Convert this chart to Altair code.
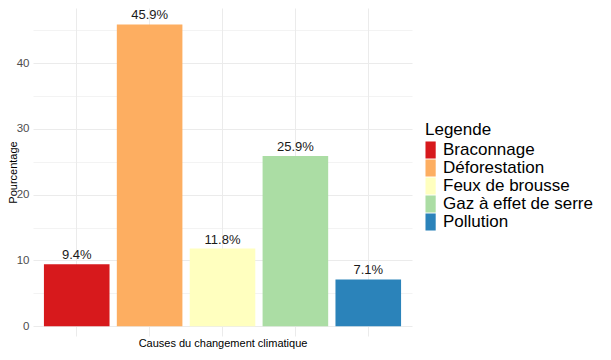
import altair as alt
import pandas as pd

categories = ["Braconnage", "Déforestation", "Feux de brousse", "Gaz à effet de serre", "Pollution"]
values = [9.4, 45.9, 11.8, 25.9, 7.1]
labels = ["9.4%", "45.9%", "11.8%", "25.9%", "7.1%"]
colors = ["#d7191c", "#fdae61", "#ffffbf", "#abdda4", "#2b83ba"]
y_grid_values = [0, 5, 10, 15, 20, 25, 30, 35, 40, 45]

df = pd.DataFrame({"cause": categories, "pct": values, "label": labels})

FONT = "Liberation Sans"

x = alt.X(
    "cause:N",
    sort=categories,
    title="Causes du changement climatique",
    scale=alt.Scale(paddingInner=0.1, paddingOuter=0.15),
    axis=alt.Axis(
        labels=False, ticks=False, domain=False, grid=True, bandPosition=0.5,
        gridColor="#ebebeb", gridWidth=1,
        titleFontSize=11, titleFontWeight="normal", titleColor="black",
        titlePadding=1, titleFont=FONT,
    ),
)
y = alt.Y(
    "pct:Q",
    title="Pourcentage",
    scale=alt.Scale(domain=[-1.5, 48.4], nice=False, zero=False),
    axis=alt.Axis(
        values=y_grid_values,
        labelExpr="datum.value % 10 === 0 ? datum.label : ''",
        ticks=False, domain=False, grid=True,
        gridColor="#ebebeb",
        gridWidth={"condition": {"test": "datum.value % 10 === 0", "value": 1}, "value": 0.6},
        labelFontSize=11.5, labelColor="#4d4d4d", labelPadding=4, labelFont=FONT,
        titleFontSize=11, titleFontWeight="normal", titleColor="black",
        titlePadding=-2, titleFont=FONT,
    ),
)

base = alt.Chart(df)

bars = base.mark_bar().encode(
    x=x,
    y=y,
    color=alt.Color(
        "cause:N",
        scale=alt.Scale(domain=categories, range=colors),
        legend=alt.Legend(
            title="Legende", orient="none", legendX=392, legendY=114,
            titleFontSize=17, titleFontWeight="normal", titleColor="black", titleFont=FONT,
            labelFontSize=17, labelColor="black", labelFont=FONT, labelLimit=300,
            symbolType="M-1,-1H0.2V1H-1Z", symbolSize=290, symbolStrokeWidth=0,
            symbolOpacity=1, rowPadding=-0.7, labelOffset=0, titlePadding=2, padding=0,
        ),
    ),
)

text = base.mark_text(baseline="bottom", dy=-2, fontSize=13, color="#1a1a1a", font=FONT).encode(
    x=x, y=y, text="label:N"
)

chart = (
    (bars + text)
    .properties(
        width=379,
        height=328,
        autosize="none",
        padding={"left": 25, "top": 0, "right": 190, "bottom": 14},
    )
    .configure(font=FONT, view=alt.ViewConfig(strokeWidth=0, stroke="transparent"))
)

chart.save("out.html", embed_options={"renderer": "svg", "actions": False})
